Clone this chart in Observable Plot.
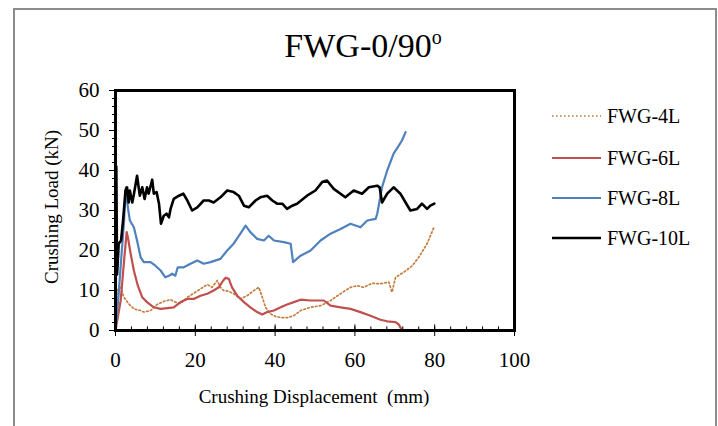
<!DOCTYPE html>
<html><head><meta charset="utf-8">
<script src="https://cdn.jsdelivr.net/npm/d3@7"></script>
<script src="https://cdn.jsdelivr.net/npm/@observablehq/plot@0.6"></script>
<style>
body{margin:0;background:#fff;}
#wrap{position:relative;width:718px;height:426px;overflow:hidden;background:#fff;font-family:"Liberation Serif","Times New Roman",serif;}
#wrap svg{position:absolute;left:0;top:0;}
</style></head><body><div id="wrap"></div>
<script>
const titleMain = "FWG-0/90";
const titleSup = "o";
const xLabel = "Crushing Displacement  (mm)";
const yLabel = "Crushing Load (kN)";
const seriesNames = ["FWG-4L", "FWG-6L", "FWG-8L", "FWG-10L"];
const seriesColors = ["#c47d3e", "#c0504d", "#4f81bd", "#000000"];
const xTicks = [0, 20, 40, 60, 80, 100];
const yTicks = [0, 10, 20, 30, 40, 50, 60];
const xMinor = d3.range(0, 101, 4);
const yMinor = d3.range(0, 61, 2);

const fwg4x = [0, 0.4, 1.3, 2.1, 3.3, 4.6, 6.3, 7.1, 8.8, 10.4, 12.1, 13.8, 15.0, 16.3, 18.0, 19.6, 21.3, 23.0, 24.2, 25.5, 26.3, 27.1, 28.4, 29.6, 31.3, 33.0, 34.7, 35.9, 36.8, 37.6, 38.8, 40.1, 41.8, 43.0, 44.7, 46.4, 48.9, 51.4, 53.9, 56.4, 58.9, 60.6, 62.2, 64.3, 66.4, 68.5, 69.3, 70.2, 72.3, 74.4, 76.0, 78.1, 79.8];
const fwg4y = [0, 10, 10.8, 8.3, 6.7, 5.4, 5, 4.6, 5, 6.5, 7.3, 7.7, 7.1, 6.7, 8.3, 9.3, 10.4, 11.5, 10.8, 12.5, 10.8, 10, 9.8, 9.2, 7.9, 8.7, 10, 10.8, 8.3, 5.8, 4.2, 3.5, 3.2, 3.2, 3.7, 5, 5.8, 6.2, 7.5, 9.2, 10.8, 11.2, 10.8, 11.8, 11.7, 12.1, 9.6, 13.3, 14.6, 16.2, 18.3, 21.7, 25.8];

const fwg6x = [0, 1.3, 2.3, 2.8, 3.1, 3.8, 4.6, 5.6, 6.7, 7.9, 9.6, 11.3, 13.0, 14.6, 16.3, 18.0, 19.6, 21.3, 23.0, 24.6, 25.9, 27.0, 27.6, 28.4, 29.2, 30.5, 32.2, 33.8, 35.5, 36.8, 38.0, 39.7, 41.4, 43.0, 44.7, 46.4, 48.9, 52.2, 53.9, 56.4, 58.9, 61.4, 63.9, 66.4, 68.1, 70.2, 71.0, 71.6];
const fwg6y = [0, 7.5, 19.2, 24.6, 23.3, 19.2, 15, 11.2, 8.3, 7.1, 5.8, 5.4, 5.6, 5.8, 7.1, 7.9, 7.9, 8.7, 9.2, 10, 10.8, 12.5, 13.2, 12.9, 10.8, 8.7, 7.1, 5.8, 4.6, 4.0, 4.6, 5, 5.8, 6.5, 7.1, 7.7, 7.5, 7.5, 6.2, 5.8, 5.4, 4.6, 3.7, 2.7, 2.3, 2.1, 1.5, 0.4];

const fwg8x = [0, 0.8, 1.4, 2.1, 2.6, 3.1, 3.6, 4.6, 5.4, 6.3, 7.1, 8.8, 10.0, 11.3, 12.5, 13.4, 14.2, 15.0, 15.6, 17.1, 18.8, 20.5, 22.1, 23.8, 26.3, 28.0, 29.6, 31.3, 32.6, 33.8, 35.5, 37.2, 38.4, 39.7, 42.2, 43.9, 44.5, 46.4, 48.9, 51.4, 53.9, 56.4, 58.9, 61.4, 63.1, 65.2, 65.6, 66.8, 68.1, 69.7, 71.0, 71.8, 72.7];
const fwg8y = [0, 9.2, 17.5, 26.7, 35.8, 30.8, 27.5, 25.8, 22.5, 18.3, 17.1, 17.1, 16.2, 15, 13.3, 13.7, 14.2, 13.7, 15.8, 15.8, 16.7, 17.5, 16.7, 17.1, 17.9, 20, 21.7, 24.2, 26.2, 24.6, 22.9, 22.5, 23.7, 22.5, 22.1, 21.7, 17.1, 18.7, 20, 22.5, 24.2, 25.4, 26.7, 25.8, 27.5, 27.9, 29.2, 35.8, 40, 44.2, 46.2, 47.5, 49.6];

const fwg10x = [0, 0.2, 0.4, 0.8, 1.4, 1.9, 2.5, 2.9, 3.3, 3.6, 4.2, 4.6, 5.4, 6.1, 6.7, 7.3, 7.9, 8.3, 9.2, 9.6, 10.3, 10.9, 11.4, 12.1, 12.8, 13.4, 13.8, 14.6, 15.9, 17.0, 18.0, 19.2, 20.5, 22.1, 23.4, 24.6, 26.3, 28.0, 29.6, 30.9, 32.2, 33.4, 35.1, 36.3, 38.0, 39.3, 40.5, 41.8, 43.0, 44.3, 45.5, 48.0, 50.1, 51.8, 53.0, 54.7, 57.6, 59.7, 61.8, 63.5, 65.6, 66.2, 66.8, 68.1, 69.7, 71.4, 72.7, 73.9, 75.6, 76.8, 78.1, 78.9, 79.9];
const fwg10y = [0, 41, 14, 21.7, 22.5, 27.5, 35, 35.8, 32, 35, 32, 34, 38.7, 33.7, 35.8, 32.9, 35.8, 34.2, 37.7, 34.2, 34.6, 31.7, 26.7, 28.7, 29.2, 28.3, 30.4, 32.9, 33.7, 34.2, 32.5, 30, 30.8, 32.5, 32.5, 32, 33.3, 35, 34.6, 33.7, 31.2, 30.8, 32.5, 33.3, 33.7, 32.5, 31.7, 31.7, 30.4, 31.2, 31.7, 33.7, 35, 37.1, 37.5, 35.4, 33.3, 35, 34.2, 35.8, 36.2, 35.8, 32, 34.2, 35.8, 34.2, 32, 30, 30.4, 31.7, 30.4, 31.2, 31.7];

const xs = [fwg4x, fwg6x, fwg8x, fwg10x];
const ys = [fwg4y, fwg6y, fwg8y, fwg10y];
const tables = xs.map((arr, i) => arr.map((x, j) => ({series: seriesNames[i], x, y: ys[i][j]})));

const lineStyles = [
  {strokeWidth: 1.7, strokeDasharray: "1.6,2.4"},
  {strokeWidth: 2.2},
  {strokeWidth: 2.2},
  {strokeWidth: 2.6}
];

const plot = Plot.plot({
  width: 718,
  height: 426,
  marginLeft: 115,
  marginRight: 204,
  marginTop: 90,
  marginBottom: 96,
  style: {fontFamily: '"Liberation Serif","Times New Roman",serif', background: "transparent", color: "#000"},
  x: {domain: [0, 100]},
  y: {domain: [0, 60]},
  marks: [
    ...tables.map((t, i) => Plot.line(t, {x: "x", y: "y", stroke: seriesColors[i], strokeLinejoin: "round", ...lineStyles[i]})),
    Plot.ruleX(xMinor, {x: d => d, y1: 0, y2: 0.9, stroke: "#000", strokeWidth: 1}),
    Plot.ruleX(xTicks, {x: d => d, y1: 0, y2: 1.4, stroke: "#000", strokeWidth: 1}),
    Plot.axisX({ticks: xTicks, tickSize: 6, tickPadding: 16, fontSize: 21, label: null, tickFormat: d => String(d)}),
    Plot.axisY({ticks: yMinor, tickSize: 3, text: null, label: null}),
    Plot.axisY({ticks: yTicks, tickSize: 6, tickPadding: 10, fontSize: 21, label: null, tickFormat: d => String(d)}),
    Plot.frame({stroke: "#000", strokeWidth: 3})
  ]
});
document.getElementById("wrap").appendChild(plot);

const ov = d3.select("#wrap").append("svg").attr("width", 718).attr("height", 426)
  .style("font-family", '"Liberation Serif","Times New Roman",serif');
ov.append("rect").attr("x", 14).attr("y", 9).attr("width", 702).attr("height", 440)
  .attr("fill", "none").attr("stroke", "#8c8c8c").attr("stroke-width", 2);
const t = ov.append("text").attr("x", 363).attr("y", 57).attr("text-anchor", "middle").attr("font-size", 34);
t.append("tspan").text(titleMain);
t.append("tspan").attr("font-size", 20).attr("dy", -13).text(titleSup);
ov.append("text").attr("x", 314).attr("y", 403).attr("text-anchor", "middle").attr("font-size", 19)
  .attr("xml:space", "preserve").style("white-space", "pre").text(xLabel);
ov.append("text").attr("transform", "translate(58,207) rotate(-90)").attr("text-anchor", "middle").attr("font-size", 19).text(yLabel);
const legY = [123, 165, 205, 245];
seriesNames.forEach((name, i) => {
  const g = ov.append("g");
  g.append("line").attr("x1", 552).attr("x2", 601).attr("y1", legY[i] - 7).attr("y2", legY[i] - 7)
    .attr("stroke", seriesColors[i]).attr("stroke-width", lineStyles[i].strokeWidth)
    .attr("stroke-dasharray", lineStyles[i].strokeDasharray || null);
  g.append("text").attr("x", 607).attr("y", legY[i]).attr("font-size", 20).text(name);
});
</script></body></html>
